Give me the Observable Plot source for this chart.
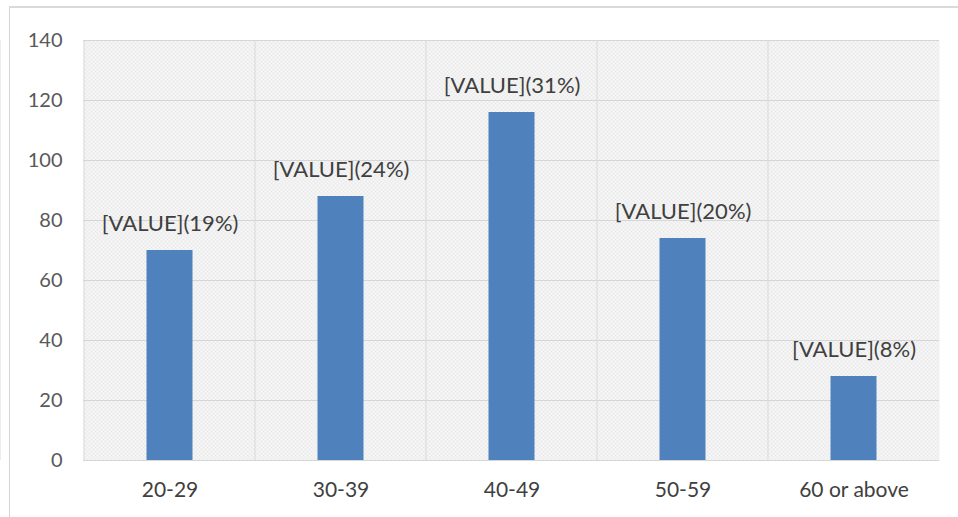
<!DOCTYPE html>
<html>
<head>
<meta charset="utf-8">
<script src="https://cdn.jsdelivr.net/npm/d3@7"></script>
<script src="https://cdn.jsdelivr.net/npm/@observablehq/plot@0.6"></script>
<style>
  html, body { margin: 0; padding: 0; background: #fff; }
  #wrap { position: relative; width: 958px; height: 517px; overflow: hidden; }
  #border { position: absolute; left: 9px; top: 6px; width: 960px; height: 520px;
            border-left: 1px solid #d4d4d4; border-top: 2px solid #dadada; box-sizing: border-box; }
  #chart { position: absolute; left: 0; top: 0; }
</style>
</head>
<body>
<div id="wrap">
  <div id="border"></div>
  <div id="chart"></div>
</div>
<script>
// Respondents by age group
const ageGroups = ["20-29", "30-39", "40-49", "50-59", "60 or above"];
const counts = [70, 88, 116, 74, 28];
const shareLabels = ["[VALUE](19%)", "[VALUE](24%)", "[VALUE](31%)", "[VALUE](20%)", "[VALUE](8%)"];
const yTicks = [0, 20, 40, 60, 80, 100, 120, 140];

const rows = ageGroups.map((g, i) => ({group: g, count: counts[i], label: shareLabels[i]}));
const font = "Lato, 'Open Sans', sans-serif";
const barInset = 62.5;

const chart = Plot.plot({
  width: 958,
  height: 517,
  marginLeft: 83,
  marginRight: 19,
  marginTop: 40,
  marginBottom: 57,
  style: {fontFamily: font, fontSize: "20px", color: "#404040", background: "transparent"},
  x: {domain: ageGroups, padding: 0, label: null},
  y: {domain: [0, 140], ticks: yTicks, label: null},
  marks: [
    Plot.frame({fill: "url(#hatch)", stroke: null}),
    Plot.gridY(yTicks, {stroke: "#d6d6d6", strokeOpacity: 1, strokeWidth: 1}),
    // category separators at the band edges
    Plot.tickX(ageGroups, {x: d => d, dx: 0, stroke: "#d9d9d9", strokeOpacity: 1,
      render: (index, scales, values, dims) => {
        const g = d3.create("svg:g");
        const bw = scales.x.bandwidth;
        const edges = ageGroups.map(a => scales.x(a)).concat([scales.x(ageGroups[ageGroups.length - 1]) + bw]);
        for (const xp of edges) {
          g.append("line").attr("x1", xp).attr("x2", xp)
            .attr("y1", dims.marginTop).attr("y2", dims.height - dims.marginBottom)
            .attr("stroke", "#d9d9d9");
        }
        return g.node();
      }
    }),
    Plot.barY(rows, {x: "group", y: "count", fill: "#4f81bd", insetLeft: barInset, insetRight: barInset}),
    Plot.text(rows, {x: "group", y: "count", text: "label", dy: -27, fill: "#404040", fontSize: 22}),
    Plot.axisY(yTicks, {tickSize: 0, tickPadding: 21, fill: "#595959", fontSize: 20}),
    Plot.axisX({tickSize: 0, tickPadding: 22, fill: "#404040", fontSize: 21})
  ]
});

// fine checker used as the plot-area background
const defs = d3.select(chart).insert("defs", ":first-child");
const pat = defs.append("pattern").attr("id", "hatch").attr("patternUnits", "userSpaceOnUse")
  .attr("width", 4).attr("height", 4);
pat.append("rect").attr("width", 4).attr("height", 4).attr("fill", "#f8f8f8");
pat.append("rect").attr("width", 2).attr("height", 2).attr("fill", "#eaeaea");
pat.append("rect").attr("x", 2).attr("y", 2).attr("width", 2).attr("height", 2).attr("fill", "#eaeaea");

document.getElementById("chart").appendChild(chart);
</script>
</body>
</html>
